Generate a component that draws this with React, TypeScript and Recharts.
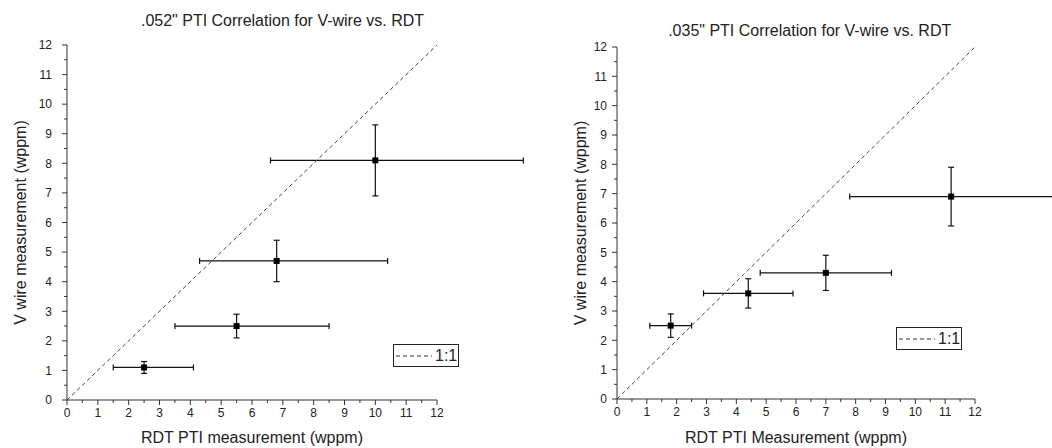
import React from "react";
import { ScatterChart, Scatter, XAxis, YAxis, ErrorBar, Legend } from "recharts";

// axis ticks: labels on whole numbers, minor marks on the halves
const TICKS = [0, 0.5, 1, 1.5, 2, 2.5, 3, 3.5, 4, 4.5, 5, 5.5, 6, 6.5, 7, 7.5, 8, 8.5, 9, 9.5, 10, 10.5, 11, 11.5, 12];
const DOMAIN: [number, number] = [0, 12];

// .052" panel (x error bars are asymmetric)
const rdt052 = [2.5, 5.5, 6.8, 10.0];
const vwire052 = [1.1, 2.5, 4.7, 8.1];
const rdt052ErrLow = [1.0, 2.0, 2.5, 3.4];
const rdt052ErrHigh = [1.6, 3.0, 3.6, 4.8];
const vwire052Err = [0.2, 0.4, 0.7, 1.2];

// .035" panel
const rdt035 = [1.8, 4.4, 7.0, 11.2];
const vwire035 = [2.5, 3.6, 4.3, 6.9];
const rdt035Err = [0.7, 1.5, 2.2, 3.4];
const vwire035Err = [0.4, 0.5, 0.6, 1.0];

// 1:1 reference line end points
const oneToOne = [0, 12];

const TICK_SIZE = 5;
const X_TICK_MARGIN = 3;
const AXIS_COLOR = "#333";
const TEXT_COLOR = "#222";

const data052 = rdt052.map((x, i) => ({
  x,
  y: vwire052[i],
  ex: [rdt052ErrLow[i], rdt052ErrHigh[i]],
  ey: vwire052Err[i],
}));
const data035 = rdt035.map((x, i) => ({
  x,
  y: vwire035[i],
  ex: rdt035Err[i],
  ey: vwire035Err[i],
}));
const lineData = oneToOne.map((v) => ({ x: v, y: v }));

function XTick(props: any) {
  const { x, y, payload } = props;
  const major = Number.isInteger(payload.value);
  const axisY = y - TICK_SIZE - X_TICK_MARGIN;
  return (
    <g>
      <line x1={x} x2={x} y1={axisY} y2={axisY + (major ? 5 : 3)} stroke={AXIS_COLOR} />
      {major && (
        <text x={x} y={y} dy="0.71em" textAnchor="middle" fontSize={12} fill={TEXT_COLOR}>
          {payload.value}
        </text>
      )}
    </g>
  );
}

function YTick(props: any) {
  const { x, y, payload, tickMargin } = props;
  const major = Number.isInteger(payload.value);
  const axisX = x + TICK_SIZE + tickMargin;
  return (
    <g>
      <line x1={axisX - (major ? 5 : 3)} x2={axisX} y1={y} y2={y} stroke={AXIS_COLOR} />
      {major && (
        <text x={x} y={y} dy="0.355em" textAnchor="end" fontSize={12} fill={TEXT_COLOR}>
          {payload.value}
        </text>
      )}
    </g>
  );
}

const Square = (p: any) => <rect x={p.cx - 3} y={p.cy - 3} width={6} height={6} fill="#000" />;

function LegendBox(props: any) {
  const item = (props.payload || []).find((p: any) => p.value === "1:1");
  if (!item) return null;
  return (
    <div
      style={{
        border: "1px solid #222",
        height: 21,
        width: 64,
        display: "flex",
        alignItems: "center",
        fontSize: 16,
        color: TEXT_COLOR,
        background: "#fff",
      }}
    >
      <svg width={38} height={10} style={{ marginLeft: 2 }}>
        <line x1={0} x2={36} y1={5} y2={5} stroke="#333" strokeDasharray="4 3" />
      </svg>
      <span style={{ marginLeft: 1 }}>{item.value}</span>
    </div>
  );
}

interface PanelProps {
  title: string;
  xLabel: string;
  data: any[];
  left: number;
  width: number;
  titleX: number;
  titleTop: number;
  margin: { top: number; right: number; left: number; bottom: number };
  yAxisWidth: number;
  xAxisHeight: number;
  yTickMargin: number;
  yLabelOffset: number;
  legendPos: { left: number; top: number };
}

function Panel(p: PanelProps) {
  return (
    <>
      <div
        style={{
          position: "absolute",
          left: p.titleX,
          top: p.titleTop,
          transform: "translateX(-50%)",
          whiteSpace: "nowrap",
          fontSize: 16,
          lineHeight: "16px",
          color: TEXT_COLOR,
        }}
      >
        {p.title}
      </div>
      <div style={{ position: "absolute", left: p.left, top: 0 }}>
        <ScatterChart width={p.width} height={448} margin={p.margin}>
          <XAxis
            type="number"
            dataKey="x"
            domain={DOMAIN}
            ticks={TICKS}
            interval={0}
            allowDataOverflow
            height={p.xAxisHeight}
            tickSize={TICK_SIZE}
            tickMargin={X_TICK_MARGIN}
            tickLine={false}
            axisLine={{ stroke: AXIS_COLOR }}
            tick={(t: any) => <XTick {...t} />}
            label={{ value: p.xLabel, position: "insideBottom", offset: 5, fontSize: 16, fill: TEXT_COLOR }}
          />
          <YAxis
            type="number"
            dataKey="y"
            domain={DOMAIN}
            ticks={TICKS}
            interval={0}
            allowDataOverflow
            width={p.yAxisWidth}
            tickSize={TICK_SIZE}
            tickMargin={p.yTickMargin}
            tickLine={false}
            axisLine={{ stroke: AXIS_COLOR }}
            tick={(t: any) => <YTick {...t} tickMargin={p.yTickMargin} />}
            label={{
              value: "V wire measurement (wppm)",
              angle: -90,
              position: "insideLeft",
              offset: p.yLabelOffset,
              fontSize: 16,
              fill: TEXT_COLOR,
              style: { textAnchor: "middle" },
            }}
          />
          <Scatter
            name="1:1"
            data={lineData}
            fill="#444"
            line={{ stroke: "#444", strokeDasharray: "4 3", strokeWidth: 1 }}
            shape={() => <g />}
            legendType="line"
            isAnimationActive={false}
          />
          <Scatter name="data" data={p.data} shape={Square} legendType="none" isAnimationActive={false}>
            <ErrorBar dataKey="ex" direction="x" width={3} stroke="#111" strokeWidth={1.2} isAnimationActive={false} />
            <ErrorBar dataKey="ey" direction="y" width={3} stroke="#111" strokeWidth={1.2} isAnimationActive={false} />
          </Scatter>
          <Legend
            layout="horizontal"
            verticalAlign="middle"
            align="center"
            content={(lp: any) => <LegendBox {...lp} />}
            wrapperStyle={{ left: p.legendPos.left, top: p.legendPos.top, width: 66 }}
          />
        </ScatterChart>
      </div>
    </>
  );
}

export default function App() {
  return (
    <div
      style={{
        position: "absolute",
        left: 0,
        top: 0,
        width: 1052,
        height: 448,
        background: "#fff",
        fontFamily: "'Liberation Sans', Arial, sans-serif",
        overflow: "hidden",
      }}
    >
      <style>{".recharts-wrapper g { clip-path: none !important; } .recharts-wrapper svg { overflow: visible; }"}</style>
      <Panel
        title={'.052" PTI Correlation for V-wire vs. RDT'}
        xLabel="RDT PTI measurement (wppm)"
        data={data052}
        left={0}
        width={540}
        titleX={282.5}
        titleTop={12.5}
        margin={{ top: 45, right: 103, left: 0, bottom: 0 }}
        yAxisWidth={67}
        xAxisHeight={48}
        yTickMargin={10}
        yLabelOffset={20.5}
        legendPos={{ left: 393, top: 344 }}
      />
      <Panel
        title={'.035" PTI Correlation for V-wire vs. RDT'}
        xLabel="RDT PTI Measurement (wppm)"
        data={data035}
        left={540}
        width={512}
        titleX={809.7}
        titleTop={23}
        margin={{ top: 47, right: 77, left: 0, bottom: 0 }}
        yAxisWidth={77}
        xAxisHeight={49}
        yTickMargin={5}
        yLabelOffset={40.5}
        legendPos={{ left: 356, top: 327 }}
      />
    </div>
  );
}
